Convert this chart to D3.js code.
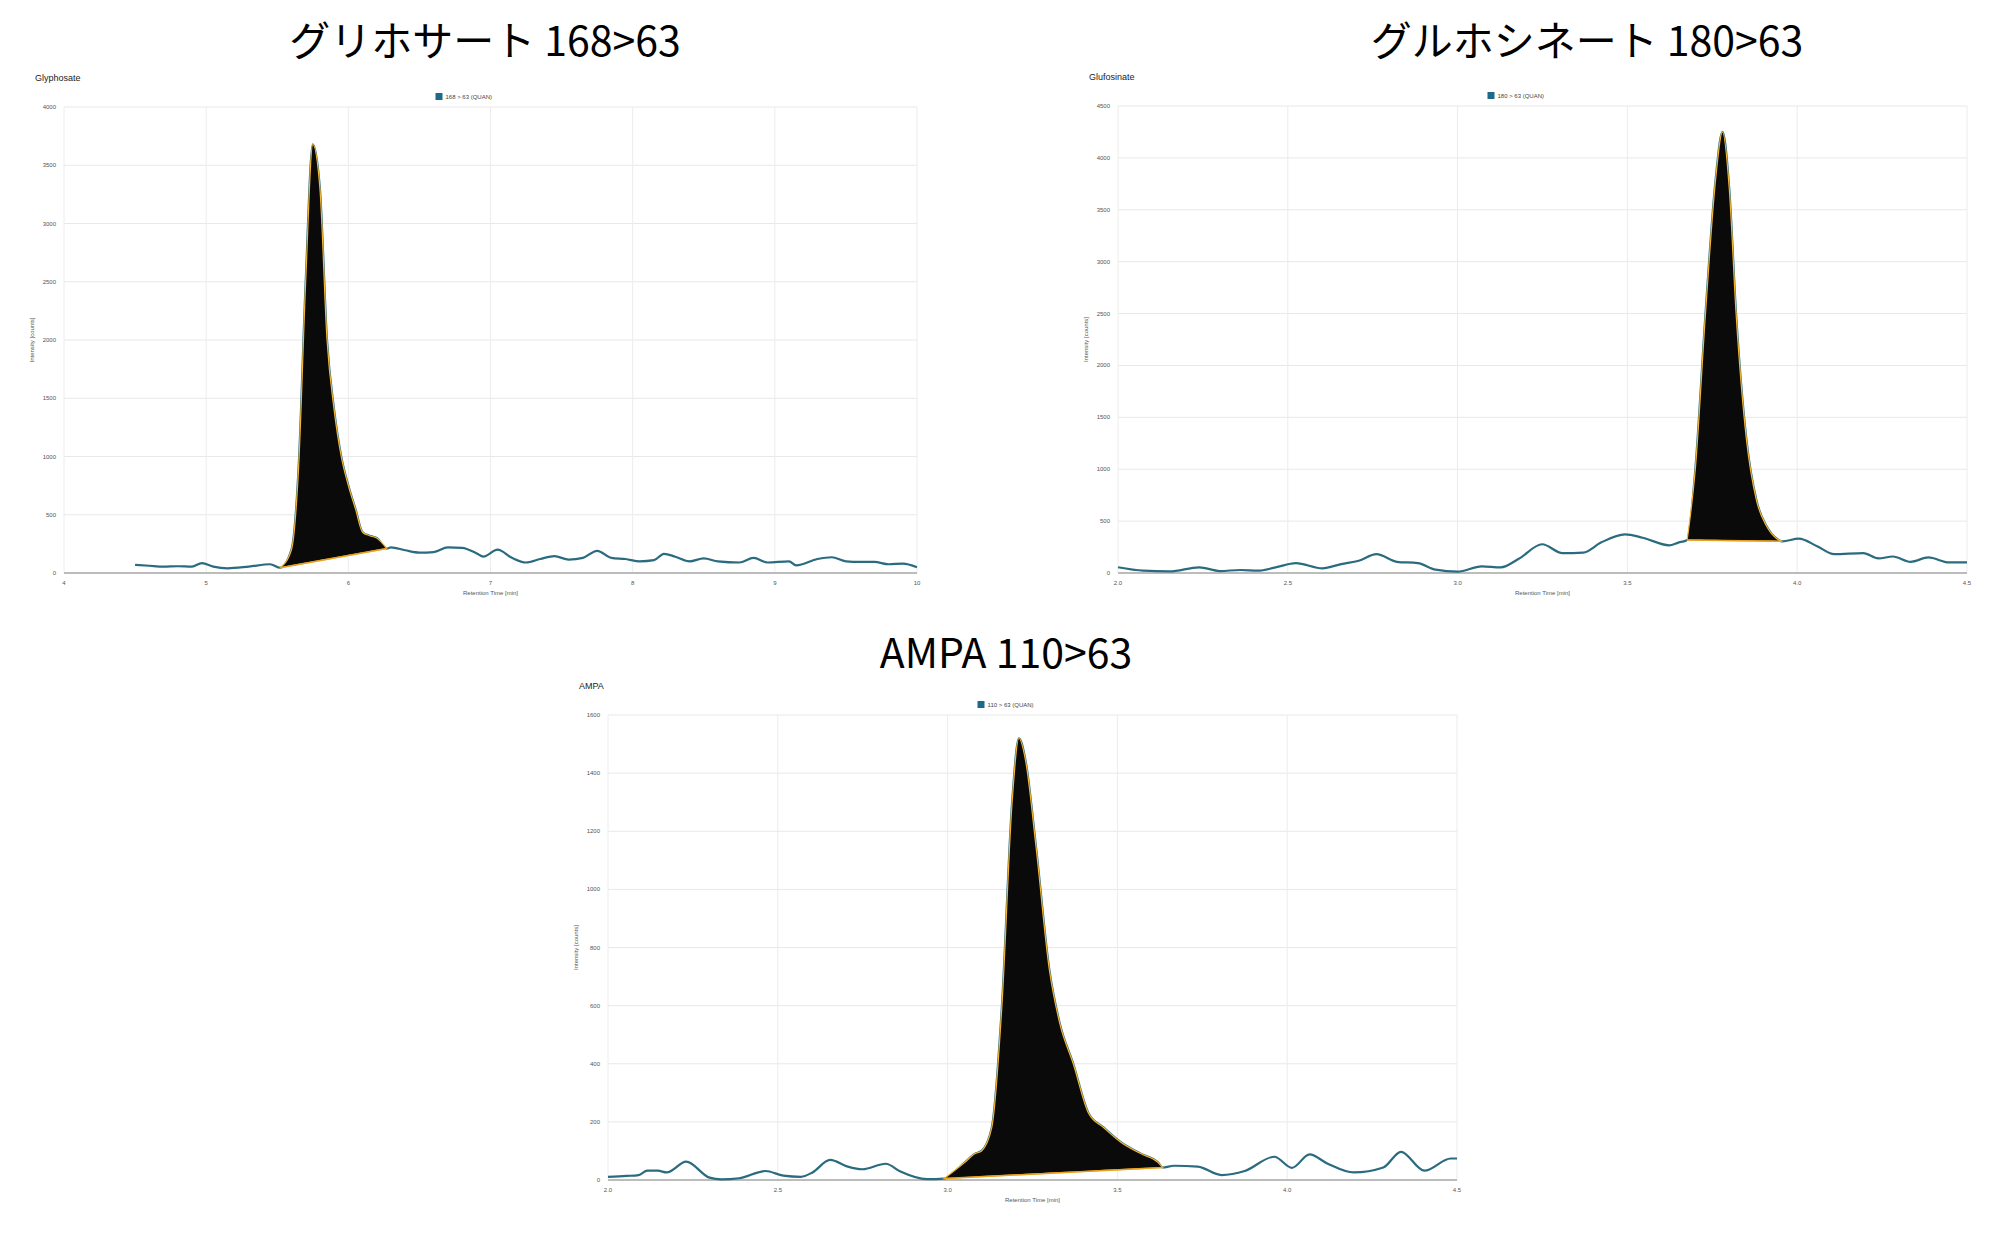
<!DOCTYPE html>
<html><head><meta charset="utf-8">
<script src="https://cdn.jsdelivr.net/npm/d3@7"></script>
<style>body{margin:0;background:#fff}</style>
</head><body><svg id="c" width="2000" height="1235"></svg>
<script>
// Glyphosate 168>63
const glyT = [4.5,4.6,4.7,4.8,4.9,4.97,5.05,5.15,5.3,5.45,5.52,5.6,5.65,5.7,5.75,5.8,5.85,5.9,5.95,6.0,6.05,6.1,6.15,6.2,6.27,6.3,6.4,6.5,6.6,6.7,6.8,6.9,6.95,7.05,7.15,7.25,7.35,7.45,7.55,7.65,7.75,7.85,7.95,8.05,8.15,8.22,8.3,8.4,8.5,8.6,8.75,8.85,8.95,9.1,9.15,9.3,9.4,9.5,9.6,9.7,9.8,9.9,10.0];
const glyI = [70,62,55,58,55,85,55,40,55,75,45,200,900,2500,3680,3300,2000,1400,1000,750,550,350,320,300,210,220,195,175,180,220,215,170,140,200,130,90,120,145,115,130,190,130,120,100,110,165,140,100,125,100,90,130,90,100,65,120,135,100,95,95,75,80,50];
const glyPeak = [5.52, 6.27];
// Glufosinate 180>63
const gluT = [2.0,2.074,2.152,2.239,2.3,2.36,2.412,2.464,2.524,2.602,2.657,2.709,2.761,2.821,2.883,2.935,3.0,3.071,3.127,3.179,3.249,3.309,3.37,3.422,3.493,3.545,3.623,3.65,3.676,3.70,3.73,3.76,3.78,3.80,3.82,3.85,3.88,3.91,3.94,3.956,4.005,4.057,4.109,4.195,4.239,4.282,4.334,4.386,4.447,4.5];
const gluI = [55,22,16,55,19,29,22,54,95,45,86,118,181,108,95,32,13,64,54,134,277,191,197,293,372,340,267,293,318,1000,2500,3800,4250,3700,2500,1300,700,450,330,305,331,261,181,191,140,159,108,150,102,102];
const gluPeak = [3.676, 3.956];
// AMPA 110>63
const ampT = [2.0,2.055,2.09,2.116,2.147,2.173,2.23,2.299,2.334,2.386,2.464,2.516,2.568,2.602,2.654,2.706,2.749,2.818,2.861,2.939,2.99,3.05,3.08,3.1,3.13,3.16,3.19,3.21,3.23,3.26,3.30,3.33,3.37,3.415,3.46,3.51,3.57,3.62,3.633,3.667,3.737,3.806,3.875,3.962,4.014,4.066,4.118,4.196,4.283,4.335,4.404,4.482,4.5];
const ampI = [11,14,17,32,32,26,63,8,2,6,31,15,11,26,69,46,37,56,29,3,5,60,90,100,180,600,1300,1520,1440,1150,720,540,400,230,180,130,90,60,43,49,46,17,31,80,42,88,57,26,43,97,32,74,74];
const ampPeak = [2.99, 3.633];

const titles = ["グリホサート 168>63","グルホシネート 180>63","AMPA 110>63"];
const names = ["Glyphosate","Glufosinate","AMPA"];
const legends = ["168 > 63 (QUAN)","180 > 63 (QUAN)","110 > 63 (QUAN)"];
const xTicks = [[4,5,6,7,8,9,10],[2.0,2.5,3.0,3.5,4.0,4.5],[2.0,2.5,3.0,3.5,4.0,4.5]];
const yTicks = [[0,500,1000,1500,2000,2500,3000,3500,4000],[0,500,1000,1500,2000,2500,3000,3500,4000,4500],[0,200,400,600,800,1000,1200,1400,1600]];

const svg = d3.select("#c");
const font = "'Liberation Sans', Arial, sans-serif";
const panels = [
 {t:glyT,i:glyI,pk:glyPeak,x0:64,x1:917,y0:573,y1:107,title:titles[0],tx:485,ty:56,name:names[0],leg:legends[0],xt:xTicks[0],yt:yTicks[0],fmt:d=>d},
 {t:gluT,i:gluI,pk:gluPeak,x0:1118,x1:1967,y0:573,y1:106,title:titles[1],tx:1587,ty:56,name:names[1],leg:legends[1],xt:xTicks[1],yt:yTicks[1],fmt:d3.format(".1f")},
 {t:ampT,i:ampI,pk:ampPeak,x0:608,x1:1457,y0:1180,y1:715,title:titles[2],tx:1006,ty:668,name:names[2],leg:legends[2],xt:xTicks[2],yt:yTicks[2],fmt:d3.format(".1f")}
];
panels.forEach(p=>{
  const g = svg.append("g");
  const x = d3.scaleLinear().domain(d3.extent(p.xt)).range([p.x0,p.x1]);
  const y = d3.scaleLinear().domain(d3.extent(p.yt)).range([p.y0,p.y1]);
  g.append("text").attr("x",p.tx).attr("y",p.ty).attr("text-anchor","middle")
    .style("font-family","'Noto Sans CJK JP', "+font).style("font-size","41px").text(p.title);
  g.append("text").attr("x",p.x0-29).attr("y",p.y1-26).style("font-family",font).style("font-size","9px").attr("fill","#222").text(p.name);
  const cx=(p.x0+p.x1)/2;
  g.append("rect").attr("x",cx-55).attr("y",p.y1-14).attr("width",7).attr("height",7).attr("fill","#1f6a8a");
  g.append("text").attr("x",cx-45).attr("y",p.y1-8).style("font-family",font).style("font-size","6px").attr("fill","#444").text(p.leg);
  g.selectAll(".hg").data(p.yt).join("line").attr("x1",p.x0).attr("x2",p.x1).attr("y1",d=>y(d)).attr("y2",d=>y(d)).attr("stroke","#e8e8e8");
  g.selectAll(".vg").data(p.xt).join("line").attr("x1",d=>x(d)).attr("x2",d=>x(d)).attr("y1",p.y0).attr("y2",p.y1).attr("stroke","#ececec");
  g.append("line").attr("x1",p.x0).attr("x2",p.x1).attr("y1",p.y0).attr("y2",p.y0).attr("stroke","#aaa").attr("stroke-width",1.5);
  g.selectAll(".yl").data(p.yt).join("text").attr("x",p.x0-8).attr("y",d=>y(d)+2).attr("text-anchor","end")
    .style("font-family",font).style("font-size","6px").attr("fill","#555").text(d=>d);
  g.selectAll(".xl").data(p.xt).join("text").attr("x",d=>x(d)).attr("y",p.y0+12).attr("text-anchor","middle")
    .style("font-family",font).style("font-size","6px").attr("fill","#555").text(p.fmt);
  g.append("text").attr("x",cx).attr("y",p.y0+22).attr("text-anchor","middle").style("font-family",font).style("font-size","6px").attr("fill","#555").text("Retention Time [min]");
  g.append("text").attr("transform",`translate(${p.x0-30},${(p.y0+p.y1)/2}) rotate(-90)`).attr("text-anchor","middle").style("font-family",font).style("font-size","6px").attr("fill","#555").text("Intensity [counts]");
  const pts = p.t.map((t,k)=>[t,p.i[k]]);
  const line = d3.line().x(d=>x(d[0])).y(d=>y(d[1])).curve(d3.curveMonotoneX);
  g.append("path").attr("d",line(pts)).attr("fill","none").attr("stroke","#2a6b80").attr("stroke-width",2.2);
  const inPk = pts.filter(d=>d[0]>=p.pk[0]-1e-9 && d[0]<=p.pk[1]+1e-9);
  const a=inPk[0], b=inPk[inPk.length-1];
  const base = t=> a[1]+(b[1]-a[1])*(t-a[0])/(b[0]-a[0]);
  const area = d3.area().x(d=>x(d[0])).y0(d=>y(base(d[0]))).y1(d=>y(d[1])).curve(d3.curveMonotoneX);
  g.append("path").attr("d",area(inPk)).attr("fill","#0a0a0a").attr("stroke","#f2b632").attr("stroke-width",1.2);
  g.append("line").attr("x1",x(a[0])).attr("x2",x(b[0])).attr("y1",y(a[1])).attr("y2",y(b[1])).attr("stroke","#e8a020").attr("stroke-width",1.5);
});
</script></body></html>
